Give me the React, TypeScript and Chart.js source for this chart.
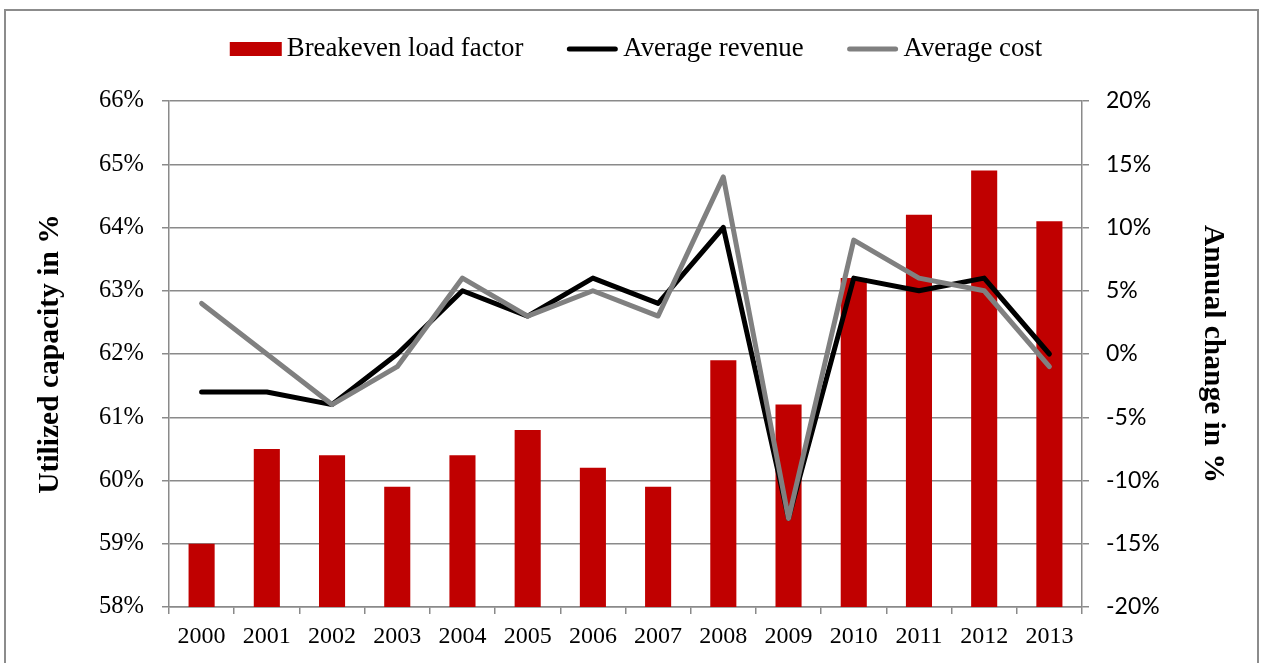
import React, { useEffect, useRef } from 'react';
import { Chart, registerables } from 'chart.js';

Chart.register(...registerables);

const years = ['2000', '2001', '2002', '2003', '2004', '2005', '2006', '2007', '2008', '2009', '2010', '2011', '2012', '2013'];
const breakevenLoadFactor = [59.0, 60.5, 60.4, 59.9, 60.4, 60.8, 60.2, 59.9, 61.9, 61.2, 63.2, 64.2, 64.9, 64.1];
const averageRevenue = [-3, -3, -4, 0, 5, 3, 6, 4, 10, -13, 6, 5, 6, 0];
const averageCost = [4, 0, -4, -1, 6, 3, 5, 3, 14, -13, 9, 6, 5, -1];
const leftAxisRange = [58, 66, 1];
const rightAxisRange = [-20, 20, 5];
const seriesLabels = ['Breakeven load factor', 'Average revenue', 'Average cost'];
const axisTitles = ['Utilized capacity in %', 'Annual change in %'];

const SERIF = "'Liberation Serif', 'Times New Roman', serif";
const SANS = "Lato, 'Liberation Sans', sans-serif";
const GRID = '#8a8a8a';
const BAR = '#C00000';

const LEGEND_FONT = `26.8px ${SERIF}`;
const LEGEND_SYMBOL_W = 52;
const LEGEND_TEXT_GAP = 5;
const LEGEND_ITEM_GAP = 43;
const LEGEND_CENTER_X = 636;
const LEGEND_CENTER_Y = 49;

const customLegend = {
  id: 'customLegend',
  afterDraw(chart: any) {
    const ctx = chart.ctx as CanvasRenderingContext2D;
    ctx.save();
    ctx.font = LEGEND_FONT;
    const items = chart.data.datasets.map((ds: any, i: number) => ({
      text: ds.label as string,
      kind: i === 0 ? 'box' : 'line',
      color: i === 0 ? ds.backgroundColor : ds.borderColor,
      width: ctx.measureText(ds.label).width,
    }));
    const total =
      items.reduce((s: number, it: any) => s + LEGEND_SYMBOL_W + LEGEND_TEXT_GAP + it.width, 0) +
      LEGEND_ITEM_GAP * (items.length - 1);
    let x = LEGEND_CENTER_X - total / 2;
    const y = LEGEND_CENTER_Y;
    items.forEach((it: any) => {
      if (it.kind === 'box') {
        ctx.fillStyle = it.color;
        ctx.fillRect(x, y - 7, LEGEND_SYMBOL_W, 14);
      } else {
        ctx.strokeStyle = it.color;
        ctx.lineWidth = 5;
        ctx.lineCap = 'round';
        ctx.beginPath();
        ctx.moveTo(x + 3, y);
        ctx.lineTo(x + LEGEND_SYMBOL_W - 3, y);
        ctx.stroke();
      }
      x += LEGEND_SYMBOL_W + LEGEND_TEXT_GAP;
      ctx.fillStyle = '#000';
      ctx.textAlign = 'left';
      ctx.textBaseline = 'middle';
      ctx.fillText(it.text, x, y);
      x += it.width + LEGEND_ITEM_GAP;
    });
    ctx.restore();
  },
};

export default function App() {
  const ref = useRef<HTMLCanvasElement | null>(null);

  useEffect(() => {
    document.body.style.margin = '0';
    const canvas = ref.current;
    if (!canvas) return;

    const chart = new Chart(canvas, {
      type: 'bar',
      data: {
        labels: years,
        datasets: [
          {
            type: 'bar',
            label: seriesLabels[0],
            data: breakevenLoadFactor,
            backgroundColor: BAR,
            borderWidth: 0,
            yAxisID: 'y',
            barPercentage: 0.4,
            categoryPercentage: 1,
            order: 3,
          } as any,
          {
            type: 'line',
            label: seriesLabels[1],
            data: averageRevenue,
            borderColor: '#000000',
            backgroundColor: '#000000',
            borderWidth: 5,
            pointRadius: 0,
            borderCapStyle: 'round',
            borderJoinStyle: 'round',
            tension: 0,
            yAxisID: 'y1',
            order: 2,
          } as any,
          {
            type: 'line',
            label: seriesLabels[2],
            data: averageCost,
            borderColor: '#808080',
            backgroundColor: '#808080',
            borderWidth: 5,
            pointRadius: 0,
            borderCapStyle: 'round',
            borderJoinStyle: 'round',
            tension: 0,
            yAxisID: 'y1',
            order: 1,
          } as any,
        ],
      },
      options: {
        animation: false,
        responsive: false,
        maintainAspectRatio: false,
        layout: { padding: { top: 101, left: 0, right: 0, bottom: 0 } },
        plugins: {
          tooltip: { enabled: false },
          legend: { display: false },
        },
        scales: {
          x: {
            type: 'category',
            offset: true,
            grid: {
              offset: true,
              drawOnChartArea: false,
              drawTicks: true,
              tickLength: 7,
              color: GRID,
              lineWidth: 1.5,
            },
            border: { display: true, color: GRID, width: 1.5 },
            ticks: {
              color: '#000',
              font: { family: SERIF, size: 24 },
              padding: 8,
              maxRotation: 0,
              autoSkip: false,
            },
            afterFit: (scale: any) => {
              scale.height = 56;
            },
          },
          y: {
            type: 'linear',
            position: 'left',
            min: leftAxisRange[0],
            max: leftAxisRange[1],
            grid: {
              drawOnChartArea: true,
              drawTicks: true,
              tickLength: 7,
              color: GRID,
              lineWidth: 1.5,
            },
            border: { display: true, color: GRID, width: 1.5 },
            ticks: {
              stepSize: leftAxisRange[2],
              color: '#000',
              font: { family: SERIF, size: 24.5 },
              padding: 18,
              callback: (v: any) => `${v}%`,
            },
            title: {
              display: true,
              text: axisTitles[0],
              color: '#000',
              font: { family: SERIF, size: 29.5, weight: 'bold' },
              padding: { top: 33, bottom: 0 },
            },
            afterFit: (scale: any) => {
              scale.width = 169;
            },
          },
          y1: {
            type: 'linear',
            position: 'right',
            min: rightAxisRange[0],
            max: rightAxisRange[1],
            grid: {
              drawOnChartArea: false,
              drawTicks: true,
              tickLength: 7,
              color: GRID,
              lineWidth: 1.5,
            },
            border: { display: true, color: GRID, width: 1.5 },
            ticks: {
              stepSize: rightAxisRange[2],
              color: '#000',
              font: { family: SANS, size: 23 },
              padding: 17,
              callback: (v: any) => `${v}%`,
            },
            title: {
              display: true,
              text: axisTitles[1],
              color: '#000',
              font: { family: SERIF, size: 29.5, weight: 'bold' },
              padding: { top: 32, bottom: 0 },
            },
            afterFit: (scale: any) => {
              scale.width = 180;
            },
          },
        },
      } as any,
      plugins: [customLegend as any],
    });

    return () => {
      chart.destroy();
    };
  }, []);

  return (
    <div style={{ position: 'fixed', left: 0, top: 0, width: 1262, height: 663, background: '#fff' }}>
      <div
        style={{
          position: 'absolute',
          left: 4,
          top: 9,
          width: 1255,
          height: 700,
          border: '2px solid #8c8c8c',
          boxSizing: 'border-box',
        }}
      />
      <canvas ref={ref} width={1262} height={663} style={{ position: 'absolute', left: 0, top: 0, width: 1262, height: 663 }} />
    </div>
  );
}
